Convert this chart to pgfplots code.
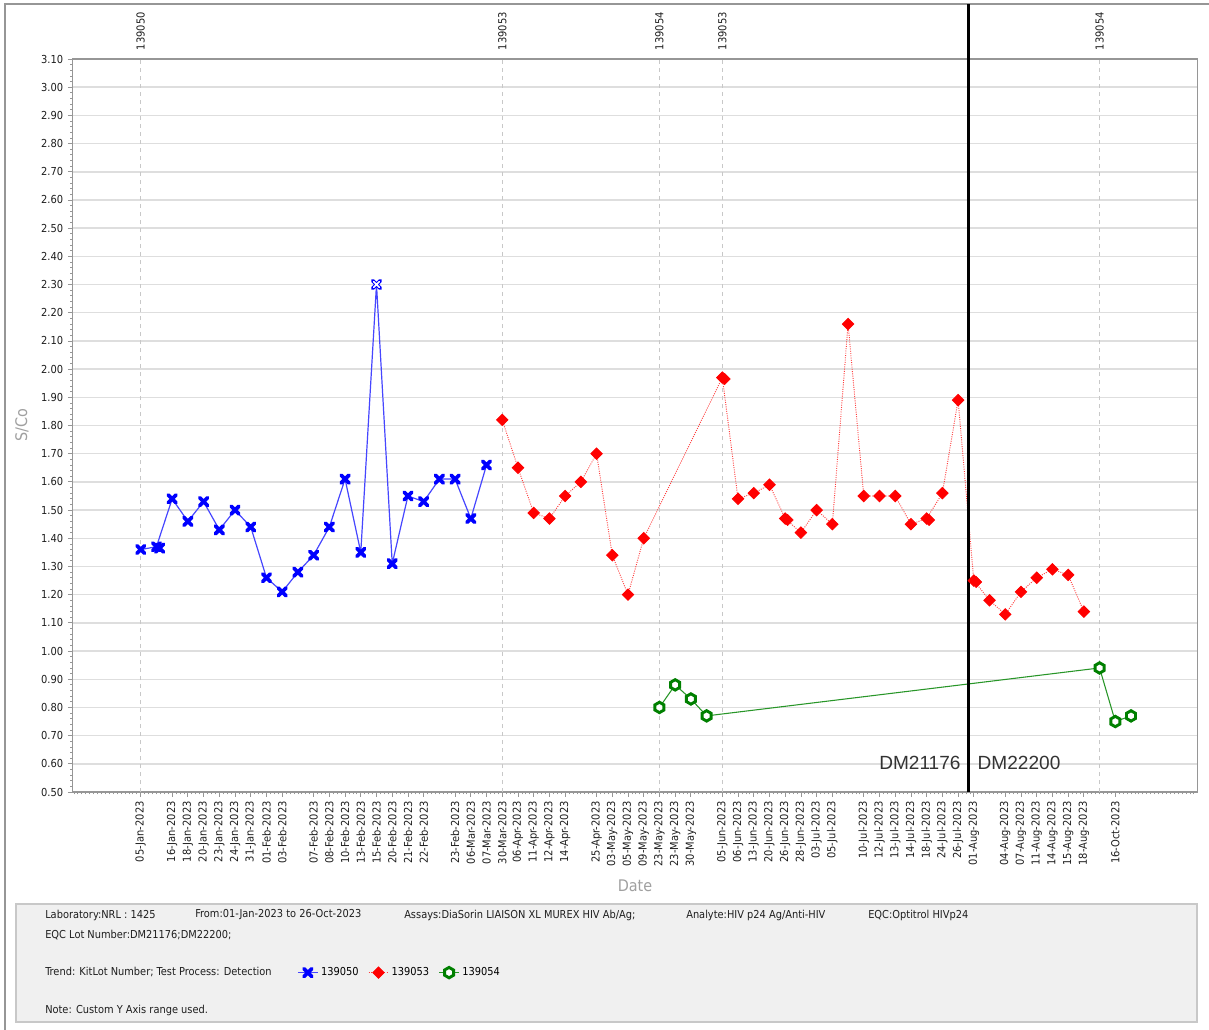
\documentclass[border=0pt]{standalone}
\usepackage{fontspec}
\setmainfont{DejaVu Sans Condensed}
\newfontfamily\arialf{Liberation Sans}
\usepackage{pgfplots}
\pgfplotsset{compat=1.18}

\definecolor{bluemk}{RGB}{0,0,255}
\definecolor{blueln}{RGB}{70,70,255}
\definecolor{redmk}{RGB}{255,0,0}
\definecolor{redln}{RGB}{255,60,60}
\definecolor{greenmk}{RGB}{0,128,0}
\definecolor{greenln}{RGB}{40,150,40}
\definecolor{gridc}{RGB}{222,222,222}
\definecolor{vgridc}{RGB}{200,200,200}
\definecolor{axc}{RGB}{150,150,150}
\definecolor{lblc}{RGB}{160,160,160}
\definecolor{boxfill}{RGB}{240,240,240}
\definecolor{boxdraw}{RGB}{200,200,200}
\definecolor{dmc}{RGB}{51,51,51}
\definecolor{txtc}{RGB}{30,30,30}

\newcommand\tickfont{\fontsize{8.25}{9}\selectfont}
\newcommand\infofont{\fontsize{8.2}{9}\selectfont}

\pgfdeclareplotmark{hexagon}{%
  \pgfpathmoveto{\pgfpointpolar{90}{\pgfplotmarksize}}%
  \pgfpathlineto{\pgfpointpolar{150}{\pgfplotmarksize}}%
  \pgfpathlineto{\pgfpointpolar{210}{\pgfplotmarksize}}%
  \pgfpathlineto{\pgfpointpolar{270}{\pgfplotmarksize}}%
  \pgfpathlineto{\pgfpointpolar{330}{\pgfplotmarksize}}%
  \pgfpathlineto{\pgfpointpolar{30}{\pgfplotmarksize}}%
  \pgfpathclose
  \pgfusepathqfillstroke
}

\begin{document}
\begin{tikzpicture}
\useasboundingbox (0pt,0pt) rectangle (906.75pt,-772.5pt);
\begin{scope}[x=0.75pt,y=-0.75pt]
\fill[white] (0,0) rectangle (1209,1030);
\draw[axc, line width=0.8pt] (5,1030) -- (5,4) -- (1209,4);
\filldraw[fill=boxfill, draw=boxdraw, line width=0.8pt] (16,904) rectangle (1197,1022);
\node[anchor=west, inner sep=0pt, font=\infofont, text=txtc] at (45,915) {Laboratory:NRL : 1425};
\node[anchor=west, inner sep=0pt, font=\infofont, text=txtc] at (195,915) {From:01-Jan-2023 to 26-Oct-2023};
\node[anchor=west, inner sep=0pt, font=\infofont, text=txtc] at (404,915) {Assays:DiaSorin LIAISON XL MUREX HIV Ab/Ag;};
\node[anchor=west, inner sep=0pt, font=\infofont, text=txtc] at (686,915) {Analyte:HIV p24 Ag/Anti-HIV};
\node[anchor=west, inner sep=0pt, font=\infofont, text=txtc] at (868,915) {EQC:Optitrol HIVp24};
\node[anchor=west, inner sep=0pt, font=\infofont, text=txtc] at (45,935) {EQC Lot Number:DM21176;DM22200;};
\node[anchor=west, inner sep=0pt, font=\infofont, text=txtc] at (45,972) {Trend: KitLot Number; Test Process: Detection};
\node[anchor=west, inner sep=0pt, font=\infofont, text=txtc] at (45,1010) {Note: Custom Y Axis range used.};
\node[rotate=90, inner sep=0pt, font=\fontsize{12}{14}\selectfont, text=lblc] at (22,425) {S/Co};
\node[inner sep=0pt, font=\fontsize{12}{14}\selectfont, text=lblc] at (635,886) {Date};
\end{scope}

\begin{axis}[
  at={(54.375pt,-594pt)}, anchor=south west,
  scale only axis, width=843.75pt, height=549.75pt,
  xmin=-4.34, xmax=67.23, ymin=0.5, ymax=3.1,
  clip=false,
  axis line style={draw=axc, line width=0.8pt},
  tick style={draw=axc, line width=0.6pt},
  tick align=outside,
  major tick length=3.5pt, minor tick length=1.8pt,
  xtick pos=bottom, ytick pos=left,
  ytick={0.5,0.6,0.7,0.8,0.9,1.0,1.1,1.2,1.3,1.4,1.5,1.6,1.7,1.8,1.9,2.0,2.1,2.2,2.3,2.4,2.5,2.6,2.7,2.8,2.9,3.0,3.1},
  minor y tick num=4,
  /pgf/number format/assume math mode=true,
  yticklabel style={/pgf/number format/.cd, fixed, fixed zerofill, precision=2, /tikz/.cd, font=\tickfont, text=txtc},
  ymajorgrids, major grid style={draw=gridc, line width=1.1pt},
  xtick={0,2,3,4,5,6,7,8,9,11,12,13,14,15,16,17,18,20,21,22,23,24,25,26,27,29,30,31,32,33,34,35,37,38,39,40,41,42,43,44,46,47,48,49,50,51,52,53,55,56,57,58,59,60,62},
  xticklabels={05-Jan-2023,16-Jan-2023,18-Jan-2023,20-Jan-2023,23-Jan-2023,24-Jan-2023,31-Jan-2023,01-Feb-2023,03-Feb-2023,07-Feb-2023,08-Feb-2023,10-Feb-2023,13-Feb-2023,15-Feb-2023,20-Feb-2023,21-Feb-2023,22-Feb-2023,23-Feb-2023,06-Mar-2023,07-Mar-2023,30-Mar-2023,06-Apr-2023,11-Apr-2023,12-Apr-2023,14-Apr-2023,25-Apr-2023,03-May-2023,05-May-2023,09-May-2023,23-May-2023,23-May-2023,30-May-2023,05-Jun-2023,06-Jun-2023,13-Jun-2023,20-Jun-2023,26-Jun-2023,28-Jun-2023,03-Jul-2023,05-Jul-2023,10-Jul-2023,12-Jul-2023,13-Jul-2023,14-Jul-2023,18-Jul-2023,24-Jul-2023,26-Jul-2023,01-Aug-2023,04-Aug-2023,07-Aug-2023,11-Aug-2023,14-Aug-2023,15-Aug-2023,18-Aug-2023,16-Oct-2023},
  xticklabel style={rotate=90, anchor=east, font=\tickfont, text=txtc},
  minor xtick={-4.25,-4,...,67},
  legend image code/.code={\draw[mark repeat=2,mark phase=2,#1] plot coordinates {(0pt,0pt) (7.5pt,0pt) (15pt,0pt)};},
  legend style={at={(rel axis cs:0.1996,-0.2464)}, anchor=west, draw=none, fill=none, legend columns=-1, font=\infofont, inner sep=0pt, /tikz/every even column/.append style={column sep=5pt}},
]
% kit lot change lines
\draw[vgridc, dashed, line width=0.6pt] (axis cs:0,0.5) -- (axis cs:0,3.1);
\draw[vgridc, dashed, line width=0.6pt] (axis cs:23,0.5) -- (axis cs:23,3.1);
\draw[vgridc, dashed, line width=0.6pt] (axis cs:33,0.5) -- (axis cs:33,3.1);
\draw[vgridc, dashed, line width=0.6pt] (axis cs:37,0.5) -- (axis cs:37,3.1);
\draw[vgridc, dashed, line width=0.6pt] (axis cs:61,0.5) -- (axis cs:61,3.1);
\node[rotate=90, anchor=west, inner sep=0pt, font=\tickfont, text=txtc] at ([yshift=6.5pt]axis cs:0,3.1) {139050};
\node[rotate=90, anchor=west, inner sep=0pt, font=\tickfont, text=txtc] at ([yshift=6.5pt]axis cs:23,3.1) {139053};
\node[rotate=90, anchor=west, inner sep=0pt, font=\tickfont, text=txtc] at ([yshift=6.5pt]axis cs:33,3.1) {139054};
\node[rotate=90, anchor=west, inner sep=0pt, font=\tickfont, text=txtc] at ([yshift=6.5pt]axis cs:37,3.1) {139053};
\node[rotate=90, anchor=west, inner sep=0pt, font=\tickfont, text=txtc] at ([yshift=6.5pt]axis cs:61,3.1) {139054};

% 139050
\addplot[blueln, line width=0.9pt, mark=x, mark size=4.1pt, mark options={bluemk, line width=2.8pt, line cap=round}] table {
x y
0 1.36
1 1.37
2 1.54
3 1.46
4 1.53
5 1.43
6 1.50
7 1.44
8 1.26
9 1.21
10 1.28
11 1.34
12 1.44
13 1.61
14 1.35
15 2.30
16 1.31
17 1.55
18 1.53
19 1.61
20 1.61
21 1.47
22 1.66
};
\addlegendentry{139050}
% 139053
\addplot[redln, line width=0.7pt, densely dotted, mark=square*, mark size=3.0pt, mark options={solid, redmk, fill=redmk, rotate=45}] table {
x y
23 1.82
24 1.65
25 1.49
26 1.47
27 1.55
28 1.60
29 1.70
30 1.34
31 1.20
32 1.40
37 1.97
38 1.54
39 1.56
40 1.59
41 1.47
42 1.42
43 1.50
44 1.45
45 2.16
46 1.55
47 1.55
48 1.55
49 1.45
50 1.47
51 1.56
52 1.89
53 1.25
54 1.18
55 1.13
56 1.21
57 1.26
58 1.29
59 1.27
60 1.14
};
\addlegendentry{139053}
% 139054
\addplot[greenln, line width=0.8pt, mark=hexagon, mark size=3.9pt, mark options={greenmk, fill=white, line width=2.2pt}] table {
x y
33 0.80
34 0.88
35 0.83
36 0.77
61 0.94
62 0.75
63 0.77
};
\addlegendentry{139054}
% overlapping duplicate results
\addplot[only marks, forget plot, mark=x, mark size=4.1pt, mark options={bluemk, line width=2.8pt, line cap=round}] table {
x y
1.2 1.365
};
\addplot[only marks, forget plot, mark=square*, mark size=3.0pt, mark options={redmk, fill=redmk, rotate=45}] table {
x y
37.15 1.965
41.15 1.465
50.15 1.465
53.15 1.245
};
\addplot[only marks, forget plot, mark=x, mark size=3.0pt, mark options={white, line width=1.2pt, line cap=round}] table {
x y
15 2.30
};
% EQC lot change
\draw[black, line width=2.3pt] (axis cs:52.68,0.5) -- ([yshift=41.25pt]axis cs:52.68,3.1);
\node[anchor=east, inner sep=0pt, font=\arialf\fontsize{14.3}{16}\selectfont, text=dmc] at ([xshift=-6pt]axis cs:52.68,0.603) {DM21176};
\node[anchor=west, inner sep=0pt, font=\arialf\fontsize{14.3}{16}\selectfont, text=dmc] at ([xshift=6.5pt]axis cs:52.68,0.603) {DM22200};
\end{axis}
\end{tikzpicture}
\end{document}
